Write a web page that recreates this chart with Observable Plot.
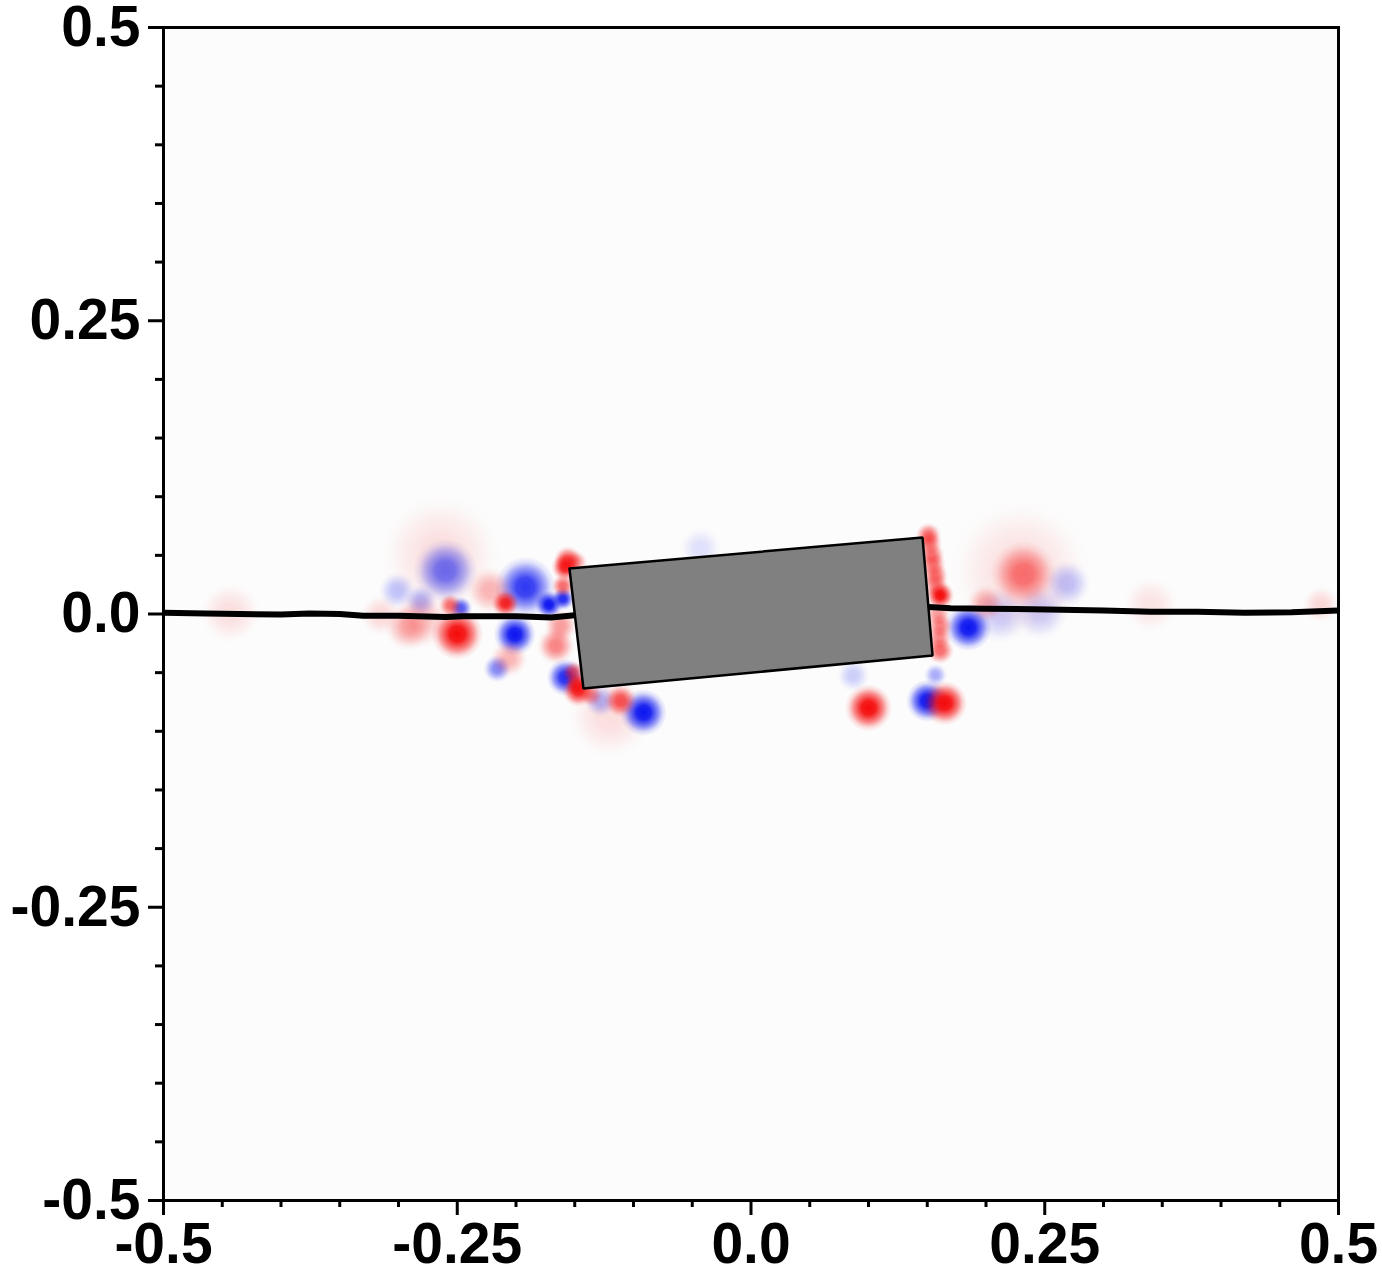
<!DOCTYPE html>
<html>
<head>
<meta charset="utf-8">
<script src="https://cdn.jsdelivr.net/npm/d3@7"></script>
<script src="https://cdn.jsdelivr.net/npm/@observablehq/plot@0.6"></script>
<style>
  html, body { margin: 0; padding: 0; background: white; }
  #chart { width: 1382px; height: 1275px; }
</style>
</head>
<body>
<div id="chart"></div>
<script>
// ---- Axis ticks ----
const xTicks = [-0.5, -0.25, 0, 0.25, 0.5];
const xTickLabels = ["-0.5", "-0.25", "0.0", "0.25", "0.5"];
const yTicks = [-0.5, -0.25, 0, 0.25, 0.5];
const yTickLabels = ["-0.5", "-0.25", "0.0", "0.25", "0.5"];
const minorTicks = [-0.45, -0.4, -0.35, -0.3, -0.2, -0.15, -0.1, -0.05, 0.05, 0.1, 0.15, 0.2, 0.3, 0.35, 0.4, 0.45];

// ---- Rigid body (rotated rectangle) corners ----
const bodyX = [-0.1545, 0.146, 0.1545, -0.1426, -0.1545];
const bodyY = [0.0388, 0.0652, -0.0354, -0.0635, 0.0388];

// ---- Filament (left and right parts) ----
const leftLineX = [-0.5, -0.464, -0.40, -0.376, -0.35, -0.33, -0.30, -0.26, -0.245, -0.20, -0.17, -0.150];
const leftLineY = [0.0010, 0.0005, -0.0005, 0.0005, 0.0, -0.0015, -0.0015, -0.0025, -0.0020, -0.0020, -0.0030, -0.0010];
const rightLineX = [0.151, 0.17, 0.20, 0.24, 0.30, 0.34, 0.38, 0.42, 0.46, 0.5];
const rightLineY = [0.0060, 0.0050, 0.0045, 0.0040, 0.0030, 0.0020, 0.0020, 0.0010, 0.0015, 0.0030];

// ---- Vorticity blobs: centre, core radius, signed strength (+ red, - blue) ----
const vortexX = [-0.260, -0.264, -0.250, -0.192, -0.201, -0.166, -0.209, -0.222, -0.216, -0.206,
                 -0.158, -0.147, -0.0915, -0.111, -0.128, -0.120, -0.158, -0.160, -0.172, -0.160,
                 -0.162, -0.281, -0.315, -0.443, -0.292, -0.301, -0.281, -0.256, -0.247,
                 0.232, 0.229, 0.185, 0.165, 0.150, 0.157, 0.100, 0.087, 0.161, 0.151, 0.154,
                 0.157, 0.161, 0.161, 0.269, 0.212, 0.246, 0.1995, 0.34, 0.485, -0.043,
                 0.152, 0.155, 0.157, 0.159, 0.160, -0.151, -0.148, -0.136, -0.156, -0.149];
const vortexY = [0.037, 0.050, -0.017, 0.023, -0.0175, -0.027, 0.009, 0.020, -0.0465, -0.038,
                 -0.054, -0.065, -0.084, -0.074, -0.074, -0.087, 0.040, 0.024, 0.008, 0.013,
                 -0.010, -0.0055, -0.001, 0.001, -0.0115, 0.020, 0.011, 0.0073, 0.005,
                 0.034, 0.037, -0.0115, -0.076, -0.074, -0.052, -0.080, -0.0525, 0.016, 0.067, 0.050,
                 0.033, -0.010, -0.031, 0.026, -0.001, 0.002, 0.009, 0.008, 0.008, 0.056,
                 0.060, 0.042, 0.025, 0.000, -0.020, -0.050, -0.060, -0.069, 0.046, 0.044];
const vortexR = [0.0136, 0.026, 0.011, 0.013, 0.009, 0.008, 0.006, 0.010, 0.006, 0.008,
                 0.008, 0.007, 0.010, 0.007, 0.007, 0.018, 0.006, 0.005, 0.006, 0.005,
                 0.007, 0.012, 0.009, 0.013, 0.010, 0.008, 0.007, 0.005, 0.005,
                 0.014, 0.030, 0.010, 0.0095, 0.009, 0.005, 0.010, 0.007, 0.006, 0.0055, 0.0055,
                 0.0055, 0.0055, 0.006, 0.010, 0.012, 0.012, 0.008, 0.012, 0.008, 0.009,
                 0.0055, 0.0055, 0.0055, 0.0055, 0.0055, 0.005, 0.005, 0.005, 0.006, 0.005];
const vortexW = [-0.6, 0.12, 1, -0.85, -1, 0.5, 0.9, 0.3, -0.5, 0.3,
                 -0.9, 0.9, -1, 0.7, -0.3, 0.12, 0.9, 0.6, -1, -0.9,
                 0.4, 0.25, 0.15, 0.12, 0.3, -0.25, -0.3, 0.6, -0.7,
                 0.55, 0.12, -1, 1, -1, -0.35, 1, -0.2, 1, 0.6, 0.55,
                 0.55, 0.5, 0.6, -0.25, -0.2, -0.2, 0.3, 0.1, 0.15, -0.12,
                 0.5, 0.5, 0.45, 0.4, 0.45, 0.6, 0.7, 0.45, 0.7, 0.45];

const vortices = vortexX.map((x, i) => ({x, y: vortexY[i], r: vortexR[i], w: vortexW[i], a: Math.abs(vortexW[i])}))
  .sort((p, q) => p.a - q.a);
const faintThreshold = 0.2;
const faintNeg = vortices.filter(d => d.w < 0 && d.a <= faintThreshold);
const faintPos = vortices.filter(d => d.w > 0 && d.a <= faintThreshold);
const strongNeg = vortices.filter(d => d.w < 0 && d.a > faintThreshold);
const strongPos = vortices.filter(d => d.w > 0 && d.a > faintThreshold);

const body = bodyX.map((x, i) => ({x, y: bodyY[i]}));
const leftLine = leftLineX.map((x, i) => ({x, y: leftLineY[i]}));
const rightLine = rightLineX.map((x, i) => ({x, y: rightLineY[i]}));

const W = 1382, H = 1275;
const mL = 163, mR = 44, mT = 27, mB = 75;
const pxPerUnit = W - mL - mR;
const font = "'Liberation Sans', Arial, Helvetica, sans-serif";

const blob = (data, id) => Plot.dot(data, {x: "x", y: "y", r: "r", fill: `url(#${id})`, fillOpacity: "a", stroke: "none"});

const svg = Plot.plot({
  width: W,
  height: H,
  marginLeft: mL,
  marginRight: mR,
  marginTop: mT,
  marginBottom: mB,
  style: {fontFamily: font, background: "white", overflow: "visible"},
  x: {domain: [-0.5, 0.5], label: null},
  y: {domain: [-0.5, 0.5], label: null},
  r: {type: "linear", domain: [0, 0.01], range: [0, 0.01 * pxPerUnit * 2.0]},
  opacity: {type: "linear", domain: [0, 1], range: [0, 1]},
  marks: [
    Plot.frame({fill: "#fcfcfc", stroke: "none"}),
    blob(faintNeg, "blueBlob"),
    blob(faintPos, "redBlob"),
    blob(strongNeg, "blueBlob"),
    blob(strongPos, "redBlob"),
    Plot.line(leftLine, {x: "x", y: "y", stroke: "black", strokeWidth: 6, strokeLinecap: "butt"}),
    Plot.line(rightLine, {x: "x", y: "y", stroke: "black", strokeWidth: 6, strokeLinecap: "butt"}),
    Plot.line(body, {x: "x", y: "y", fill: "#808080", stroke: "black", strokeWidth: 2.5, strokeLinejoin: "miter"}),
    Plot.frame({stroke: "black", strokeWidth: 3}),
    Plot.axisX(minorTicks, {anchor: "bottom", tickSize: 7, strokeWidth: 3, stroke: "black", fill: "none", label: null}),
    Plot.axisY(minorTicks, {anchor: "left", tickSize: 8, strokeWidth: 3, stroke: "black", fill: "none", label: null}),
    Plot.axisX(xTicks, {
      anchor: "bottom", tickSize: 15, tickPadding: 7, strokeWidth: 3, stroke: "black", fill: "black",
      fontSize: 57, fontWeight: "bold", fontFamily: font, label: null,
      tickFormat: d => xTickLabels[xTicks.indexOf(d)]
    }),
    Plot.axisY(yTicks, {
      anchor: "left", tickSize: 15, tickPadding: 8, strokeWidth: 3, stroke: "black", fill: "black",
      fontSize: 57, fontWeight: "bold", fontFamily: font, label: null,
      tickFormat: d => yTickLabels[yTicks.indexOf(d)]
    })
  ]
});

// radial gradients for the smooth vorticity blobs
const ns = "http://www.w3.org/2000/svg";
const defs = document.createElementNS(ns, "defs");
function grad(id, color) {
  const g = document.createElementNS(ns, "radialGradient");
  g.setAttribute("id", id);
  [[0, 1], [0.3, 0.92], [0.6, 0.5], [0.82, 0.14], [1, 0]].forEach(([o, op]) => {
    const s = document.createElementNS(ns, "stop");
    s.setAttribute("offset", o);
    s.setAttribute("stop-color", color);
    s.setAttribute("stop-opacity", op);
    g.appendChild(s);
  });
  defs.appendChild(g);
}
grad("redBlob", "rgb(245,10,10)");
grad("blueBlob", "rgb(10,20,240)");
svg.insertBefore(defs, svg.firstChild);

document.getElementById("chart").appendChild(svg);
</script>
</body>
</html>
